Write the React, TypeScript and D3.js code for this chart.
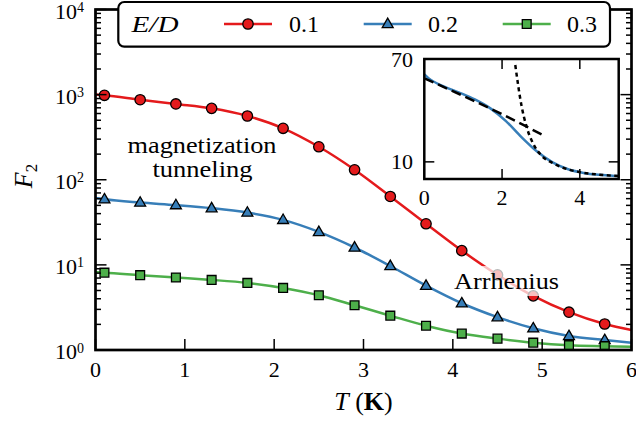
import React from 'react';
import * as d3 from 'd3';

// ---- data ----
const temps = [0.1, 0.5, 0.9, 1.3, 1.7, 2.1, 2.5, 2.9, 3.3, 3.7, 4.1, 4.5, 4.9, 5.3, 5.7];
const f2Red = [982, 871, 777, 690, 561, 402, 244, 131, 63.6, 30.4, 14.7, 7.63, 4.32, 2.78, 2.02];
const f2Blue = [59, 54, 50.4, 46.4, 41.2, 33.8, 24.4, 16, 9.7, 5.7, 3.54, 2.43, 1.8, 1.46, 1.31];
const f2Green = [8.1, 7.57, 7.1, 6.66, 6.14, 5.36, 4.4, 3.35, 2.53, 1.93, 1.56, 1.36, 1.22, 1.14, 1.11];
const curveEndT = [0, 6];
const redEnds = [1005, 1.72];
const blueEnds = [61, 1.22];
const greenEnds = [8.2, 1.09];
const seriesLabels = ['0.1', '0.2', '0.3'];
const xTicks = [0, 1, 2, 3, 4, 5, 6];
const yDecades = [0, 1, 2, 3, 4];
const insetXTicks = [0, 2, 4];
const insetYTicks = [10, 70];
const lowTFitT = [0, 1, 2, 3.1];
const lowTFitV = [58.7, 48.5, 37.8, 25];
const arrhT = [2.34, 2.5, 2.63, 2.8, 3.0, 3.3, 3.7, 4.0, 4.5, 5.0];
const arrhV = [66.5, 42.8, 30.5, 20.6, 14, 9.3, 5.6, 4.0, 2.5, 1.7];

const RED = '#e41a1c';
const BLUE = '#377eb8';
const GREEN = '#4daf4a';
const FONT = "'Liberation Serif', serif";

const W = 636, H = 421;
const L = 95.5, R = 631.5, T = 9.5, B = 350;
const x = d3.scaleLinear().domain([0, 6]).range([L, R]);
const y = d3.scaleLog().domain([1, 1e4]).range([B, T]);

const IL = 424.3, IR = 618.7, IT = 59, IB = 179;
const ix = d3.scaleLinear().domain([0, 5]).range([IL, IR]);
const iy = d3.scaleLinear().domain([0, 70]).range([IB, IT]);

type Pt = [number, number];
const mkLine = (vals: number[], ends: number[]): Pt[] => [
  [curveEndT[0], ends[0]],
  ...temps.map((t, i) => [t, vals[i]] as Pt),
  [curveEndT[1], ends[1]],
];

const mainLine = d3.line<Pt>().x(d => x(d[0])).y(d => y(d[1])).curve(d3.curveMonotoneX);
const insetLine = d3.line<Pt>().x(d => ix(d[0])).y(d => iy(d[1])).curve(d3.curveMonotoneX);

const triPath = d3.symbol().type(d3.symbolTriangle).size(52)() as string;
const sqPath = d3.symbol().type(d3.symbolSquare).size(78)() as string;

function Marker({ kind, cx, cy, fill }: { kind: string; cx: number; cy: number; fill: string }) {
  if (kind === 'circle') return <circle cx={cx} cy={cy} r={5.2} fill={fill} stroke="#000" strokeWidth={1.3} />;
  if (kind === 'tri') return <path d={triPath} transform={`translate(${cx},${cy + 0.5})`} fill={fill} stroke="#000" strokeWidth={1.3} />;
  return <path d={sqPath} transform={`translate(${cx},${cy})`} fill={fill} stroke="#000" strokeWidth={1.3} />;
}

const series = [
  { vals: f2Red, ends: redEnds, color: RED, kind: 'circle' },
  { vals: f2Blue, ends: blueEnds, color: BLUE, kind: 'tri' },
  { vals: f2Green, ends: greenEnds, color: GREEN, kind: 'sq' },
];

const txt = { fontFamily: FONT };

export default function App() {
  const minor: number[] = [];
  for (let d = 0; d < 4; d++) for (let k = 2; k <= 9; k++) minor.push(k * Math.pow(10, d));
  const legendX = [224, 363.7, 502.7];
  const legendTextX = [289, 428, 567];

  const blueInset: Pt[] = mkLine(f2Blue, blueEnds);

  return (
    <svg width={W} height={H} style={{ position: 'absolute', left: 0, top: 0, background: '#fff', fontFamily: FONT }}>
      <defs>
        <clipPath id="mainClip"><rect x={L} y={T} width={R - L} height={B - T} /></clipPath>
        <clipPath id="insetClip"><rect x={IL} y={IT} width={IR - IL} height={IB - IT} /></clipPath>
      </defs>
      <rect x={0} y={0} width={W} height={H} fill="#fff" />

      {/* series */}
      <g clipPath="url(#mainClip)">
        {series.map((s, si) => (
          <g key={si}>
            <path d={mainLine(mkLine(s.vals, s.ends)) as string} fill="none" stroke={s.color} strokeWidth={2.5} />
            {temps.map((t, i) => (
              <Marker key={i} kind={s.kind} cx={x(t)} cy={y(s.vals[i])} fill={s.color} />
            ))}
          </g>
        ))}
      </g>

      {/* ticks */}
      <g stroke="#000" strokeWidth={1.5}>
        {yDecades.map(d => {
          const yy = y(Math.pow(10, d));
          return (
            <g key={'yd' + d}>
              <line x1={L} x2={L + 11} y1={yy} y2={yy} />
              <line x1={R} x2={R - 11} y1={yy} y2={yy} />
            </g>
          );
        })}
        {minor.map((v, i) => (
          <g key={'ym' + i}>
            <line x1={L} x2={L + 5.5} y1={y(v)} y2={y(v)} />
            <line x1={R} x2={R - 5.5} y1={y(v)} y2={y(v)} />
          </g>
        ))}
        {xTicks.map(t => (
          <g key={'xt' + t}>
            <line x1={x(t)} x2={x(t)} y1={B} y2={B - 11} />
            <line x1={x(t)} x2={x(t)} y1={T} y2={T + 11} />
          </g>
        ))}
      </g>
      <rect x={L} y={T} width={R - L} height={B - T} fill="none" stroke="#000" strokeWidth={2.7} />

      {/* tick labels */}
      <g fontSize={22} fill="#000" style={txt}>
        {xTicks.map(t => (
          <text key={'xl' + t} x={x(t)} y={376.5} textAnchor="middle">{t}</text>
        ))}
        {yDecades.map(d => (
          <text key={'yl' + d} x={84} y={y(Math.pow(10, d)) + 9} textAnchor="end">
            10<tspan dy={-6.5} fontSize={14}>{d}</tspan>
          </text>
        ))}
      </g>

      {/* axis labels */}
      <text x={x(3)} y={410} textAnchor="middle" fontSize={26} style={txt}>
        <tspan fontStyle="italic">T</tspan> (<tspan fontWeight="bold">K</tspan>)
      </text>
      <text transform="translate(32,176) rotate(-90)" textAnchor="middle" fontSize={26} style={txt}>
        <tspan fontStyle="italic">F</tspan><tspan fontSize={17} dy={5}>2</tspan>
      </text>

      {/* annotations */}
      <text x={202} y={153} textAnchor="middle" fontSize={24} style={txt} textLength={149} lengthAdjust="spacingAndGlyphs">magnetization</text>
      <text x={202.5} y={177} textAnchor="middle" fontSize={24} style={txt} textLength={100} lengthAdjust="spacingAndGlyphs">tunneling</text>
      <rect x={450} y={266} width={113} height={30} fill="#fff" fillOpacity={0.72} />
      <text x={506.5} y={289} textAnchor="middle" fontSize={24} style={txt} textLength={105} lengthAdjust="spacingAndGlyphs">Arrhenius</text>

      {/* inset */}
      <rect x={IL} y={IT} width={IR - IL} height={IB - IT} fill="#fff" />
      <g clipPath="url(#insetClip)">
        <path d={insetLine(blueInset) as string} fill="none" stroke={BLUE} strokeWidth={2.5} />
        <path d={insetLine(lowTFitT.map((t, i) => [t, lowTFitV[i]] as Pt)) as string} fill="none" stroke="#000" strokeWidth={2.5} strokeDasharray="10,5" />
        <path d={insetLine(arrhT.map((t, i) => [t, arrhV[i]] as Pt)) as string} fill="none" stroke="#000" strokeWidth={2.5} strokeDasharray="4,3.5" />
      </g>
      <g stroke="#000" strokeWidth={1.5}>
        {insetXTicks.map(t => (
          <g key={'ixt' + t}>
            <line x1={ix(t)} x2={ix(t)} y1={IB} y2={IB - 10} />
            <line x1={ix(t)} x2={ix(t)} y1={IT} y2={IT + 10} />
          </g>
        ))}
        {insetYTicks.map(v => (
          <g key={'iyt' + v}>
            <line x1={IL} x2={IL + 10} y1={iy(v)} y2={iy(v)} />
            <line x1={IR} x2={IR - 10} y1={iy(v)} y2={iy(v)} />
          </g>
        ))}
      </g>
      <rect x={IL} y={IT} width={IR - IL} height={IB - IT} fill="none" stroke="#000" strokeWidth={2.5} />
      <g fontSize={22} style={txt}>
        {insetXTicks.map(t => (
          <text key={'ixl' + t} x={ix(t)} y={205} textAnchor="middle">{t}</text>
        ))}
        {insetYTicks.map(v => (
          <text key={'iyl' + v} x={413} y={iy(v) + 7.5} textAnchor="end">{v}</text>
        ))}
      </g>

      {/* legend */}
      <rect x={118.3} y={2} width={491.7} height={44.7} rx={6} fill="#fff" stroke="#000" strokeWidth={2.2} />
      <text x={131.5} y={32} fontSize={24} fontStyle="italic" style={txt} textLength={47} lengthAdjust="spacingAndGlyphs">E/D</text>
      {series.map((s, i) => (
        <g key={'lg' + i}>
          <line x1={legendX[i]} x2={legendX[i] + 48} y1={24} y2={24} stroke={s.color} strokeWidth={2.5} />
          <Marker kind={s.kind} cx={legendX[i] + 24} cy={24} fill={s.color} />
          <text x={legendTextX[i]} y={32} fontSize={24} style={txt}>{seriesLabels[i]}</text>
        </g>
      ))}
    </svg>
  );
}
